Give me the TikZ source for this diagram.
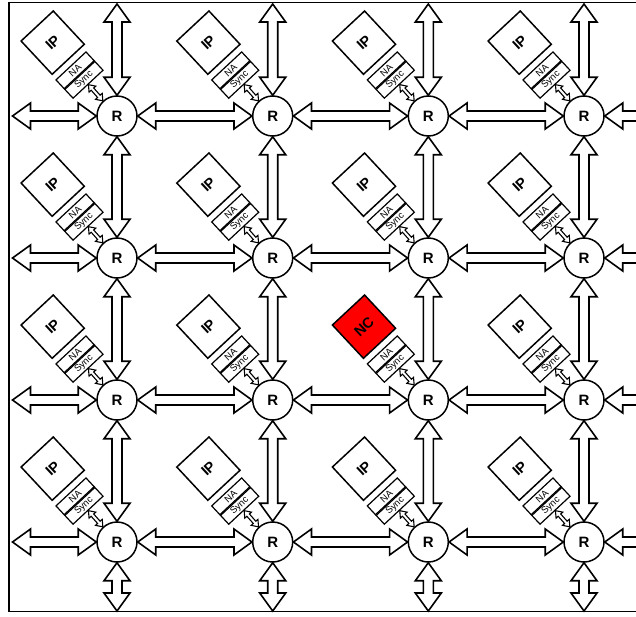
\documentclass[tikz,border=0pt]{standalone}
\usepackage{fontspec}
\setmainfont{Liberation Sans}
\usetikzlibrary{calc}
\pgfdeclarelayer{background}
\pgfsetlayers{background,main}
\tikzset{
  arrbody/.style={draw=black, fill=white, line width=1.6pt, line join=miter},
  smallarr/.style={draw=black, fill=white, line width=1.1pt, line join=miter},
  router/.style={circle, draw=black, fill=white, line width=1.5pt, minimum size=40pt, inner sep=0pt, font=\bfseries\fontsize{15}{15}\selectfont},
  ipbox/.style={rectangle, draw=black, fill=white, line width=1.5pt, minimum width=44pt, minimum height=45.5pt, inner sep=0pt, rotate=43, font=\bfseries\fontsize{14.5}{14.5}\selectfont},
  ncbox/.style={ipbox, fill=red},
  smallbox/.style={rectangle, draw=black, fill=white, line width=1.2pt, minimum width=41pt, minimum height=12pt, inner sep=0pt, rotate=43, font=\fontsize{9.5}{9.5}\selectfont},
  framebox/.style={draw=black, line width=1.8pt}
}
\newcommand\dblarr[6]{%
  \draw[#6] (#1) -- ($(#1)!#3!(#2)!#4!90:(#2)$) -- ($(#1)!#3!(#2)!#5!90:(#2)$)
   -- ($(#2)!#3!(#1)!#5!-90:(#1)$) -- ($(#2)!#3!(#1)!#4!-90:(#1)$) -- (#2)
   -- ($(#2)!#3!(#1)!#4!90:(#1)$) -- ($(#2)!#3!(#1)!#5!90:(#1)$)
   -- ($(#1)!#3!(#2)!#5!-90:(#2)$) -- ($(#1)!#3!(#2)!#4!-90:(#2)$) -- cycle;}
\newcommand\bigarr[2]{\dblarr{#1}{#2}{18pt}{13pt}{5pt}{arrbody}}
\newcommand\tinyarr[2]{\dblarr{#1}{#2}{6pt}{4.5pt}{1.7pt}{smallarr}}
\begin{document}
\begin{tikzpicture}[x=1pt, y=-1pt]
\useasboundingbox (0,0) rectangle (636,616);
\clip (0,0) rectangle (636,616);
% coordinates
\foreach \i/\x in {1/117,2/272.7,3/428.3,4/584}{
  \foreach \j/\y in {1/116,2/258,3/400,4/542}{
    \coordinate (c-\i-\j) at (\x,\y);
  }
  \coordinate (t-\i) at (\x,4);
  \coordinate (b-\i) at (\x,611);
}
\foreach \j/\y in {1/116,2/258,3/400,4/542}{
  \coordinate (l-\j) at (12.5,\y);
  \coordinate (e-\j) at (700,\y);
}
% routers
\foreach \i in {1,2,3,4}{
  \foreach \j in {1,2,3,4}{
    \node[router] (r-\i-\j) at (c-\i-\j) {R};
  }
}
\begin{pgfonlayer}{background}
\draw[framebox] (9,2.5) rectangle (660,611.5);
% horizontal arrows
\foreach \j in {1,2,3,4}{
  \bigarr{l-\j}{r-1-\j.west}
  \foreach \i [evaluate=\i as \k using int(\i+1)] in {1,2,3}{
    \bigarr{r-\i-\j.east}{r-\k-\j.west}
  }
  \bigarr{r-4-\j.east}{e-\j}
}
% vertical arrows
\foreach \i in {1,2,3,4}{
  \bigarr{t-\i}{r-\i-1.north}
  \foreach \j [evaluate=\j as \k using int(\j+1)] in {1,2,3}{
    \bigarr{r-\i-\j.south}{r-\i-\k.north}
  }
  \bigarr{r-\i-4.south}{b-\i}
}
\end{pgfonlayer}
% IP, NA, Sync
\foreach \i in {1,2,3,4}{
  \foreach \j in {1,2,3,4}{
    \ifnum\i\ifnum\j=3 0\else 1\fi=30
      \node[ncbox] (ip-\i-\j) at ($(c-\i-\j)+(133:97.5pt)+(43:3pt)$) {NC};
    \else
      \node[ipbox] (ip-\i-\j) at ($(c-\i-\j)+(133:97.5pt)+(43:3pt)$) {IP};
    \fi
    \node[smallbox] (na-\i-\j) at ($(c-\i-\j)+(133:62pt)+(43:0.5pt)$) {NA};
    \node[smallbox] (sy-\i-\j) at ($(c-\i-\j)+(133:49pt)+(43:0.5pt)$) {Sync};
    \tinyarr{sy-\i-\j.south}{r-\i-\j.133}
  }
}
\end{tikzpicture}
\end{document}
